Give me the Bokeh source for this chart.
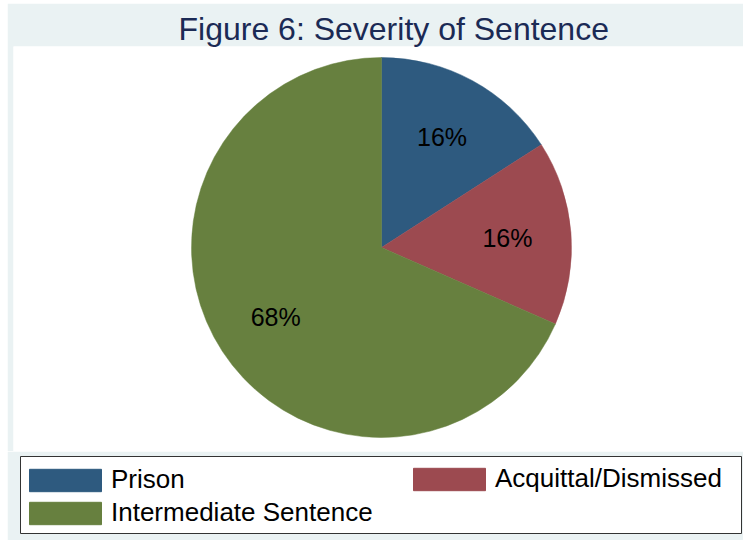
import numpy as np
from bokeh.plotting import figure
from bokeh.layouts import column
from bokeh.models import ColumnDataSource, Range1d, Legend, LegendItem
from bokeh.core.properties import value
from bokeh.embed import file_html
from bokeh.resources import INLINE

# ---- data ----
categories = ["Prison", "Acquittal/Dismissed", "Intermediate Sentence"]
shares = [15.9, 15.7, 68.4]
colors = ["#2E5A7F", "#9C4A50", "#67803F"]
title_text = "Figure 6: Severity of Sentence"

# ---- derived ----
vals = np.array(shares, dtype=float)
frac = vals / vals.sum()
cum_after = np.cumsum(frac)
cum_before = cum_after - frac
end_angle = np.pi / 2 - 2 * np.pi * cum_before
start_angle = np.pi / 2 - 2 * np.pi * cum_after
mid = np.pi / 2 - 2 * np.pi * (cum_before + frac / 2)
R = 190
lab_r = 0.665 * R
labels = [f"{round(v)}%" for v in vals]

src = ColumnDataSource(dict(
    cat=categories, start=start_angle, end=end_angle, color=colors,
    lx=lab_r * np.cos(mid), ly=lab_r * np.sin(mid), lab=labels,
))

BG = "#EAF2F3"

# ---- pie figure ----
p = figure(width=736, height=448, output_backend="svg", toolbar_location=None,
           x_range=Range1d(-368, 362), y_range=Range1d(-204, 201),
           x_axis_location=None, y_axis_location=None,
           min_border_left=6, min_border_right=0, min_border_top=43, min_border_bottom=0,
           border_fill_color=BG, background_fill_color="white",
           outline_line_color=None, title=title_text)
p.grid.visible = False
p.frame_align = False

p.title.align = "left"
p.title.offset = 165
p.title.text_font = "Liberation Sans"
p.title.text_font_style = "normal"
p.title.text_font_size = "32px"
p.title.text_color = "#1B2A55"
p.title.standoff = 0

w = p.wedge(x=0, y=0, radius=R, start_angle="start", end_angle="end",
            fill_color="color", line_color="color", line_width=0.5, source=src)

p.text(x="lx", y="ly", text="lab", source=src, text_align="center", text_baseline="middle",
       text_font=value("Liberation Sans"), text_font_size="25px", text_color="black")

# ---- legend figure (its frame is the legend box) ----
lg = figure(width=736, height=89, output_backend="svg", toolbar_location=None,
            x_range=Range1d(0, 1), y_range=Range1d(0, 1),
            x_axis_location=None, y_axis_location=None,
            min_border_left=13, min_border_right=2, min_border_top=5, min_border_bottom=7,
            border_fill_color=BG, background_fill_color="white",
            outline_line_color="#333333", outline_line_width=1)
lg.grid.visible = False
lg.frame_align = False
w2 = lg.wedge(x=0, y=0, radius=0.1, start_angle="start", end_angle="end",
              fill_color="color", line_color="color", source=src, visible=False)

common = dict(glyph_width=90, glyph_height=28, label_standoff=1, margin=0, padding=0,
              label_text_font="Liberation Sans", label_text_font_size="26px",
              label_text_color="black", border_line_color=None, background_fill_alpha=0.0)

leg1 = Legend(items=[LegendItem(label=categories[0], renderers=[w2], index=0),
                     LegendItem(label=categories[2], renderers=[w2], index=2)],
              orientation="vertical", location=(0, 5), spacing=2, **common)
leg2 = Legend(items=[LegendItem(label=categories[1], renderers=[w2], index=1)],
              orientation="vertical", location=(384, 39), spacing=0, **common)
lg.add_layout(leg1)
lg.add_layout(leg2)

layout = column(p, lg, spacing=0)
layout.margin = (3, 0, 0, 7)

open("out.html", "w").write(file_html(layout, INLINE))
